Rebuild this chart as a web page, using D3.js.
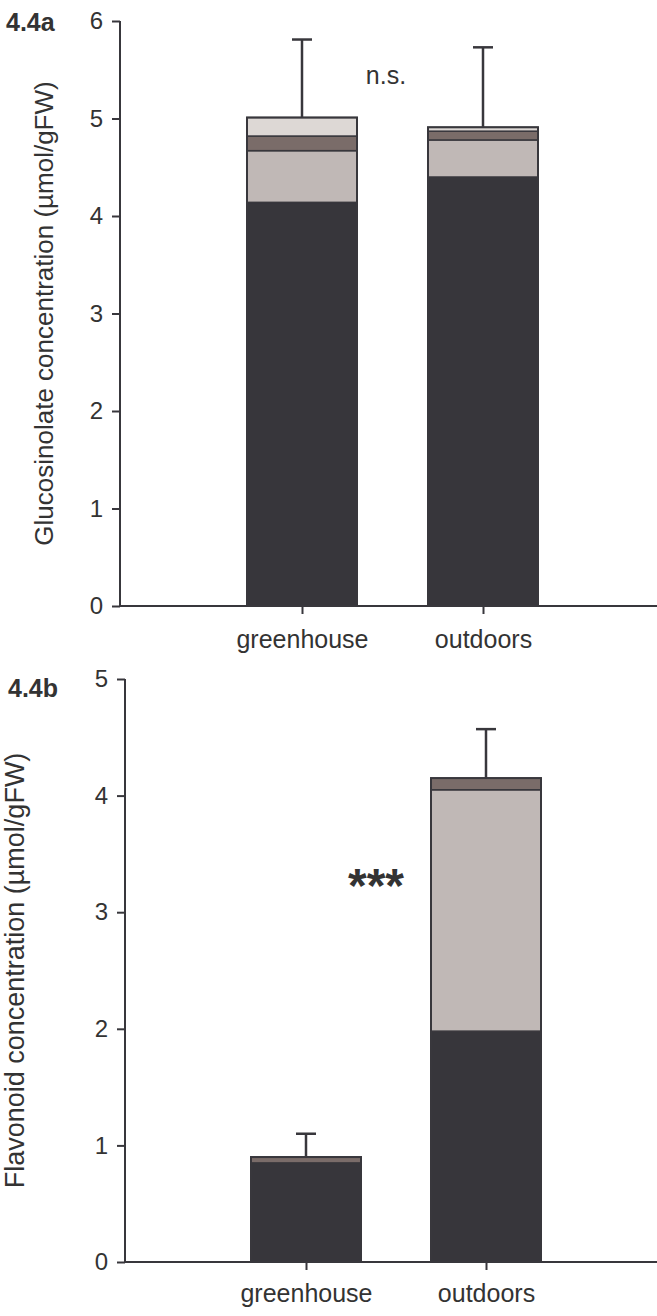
<!DOCTYPE html>
<html>
<head>
<meta charset="utf-8">
<script src="https://cdn.jsdelivr.net/npm/d3@7"></script>
<style>
  body { margin: 0; background: #fff; }
  text { font-family: "Liberation Sans", Arial, sans-serif; fill: #333; }
</style>
</head>
<body>
<svg id="chart" width="657" height="1316"></svg>
<script>
// categories shared by both panels
const categories = ["greenhouse", "outdoors"];

// 4.4a glucosinolates, stacked segments (bottom -> top), µmol/gFW
const glucoSeg1 = [4.14, 4.40];
const glucoSeg2 = [0.53, 0.38];
const glucoSeg3 = [0.15, 0.09];
const glucoSeg4 = [0.19, 0.04];
const glucoErrTop = [5.81, 5.73];
const glucoTicks = [0, 1, 2, 3, 4, 5, 6];

// 4.4b flavonoids, stacked segments (bottom -> top), µmol/gFW
const flavSeg1 = [0.85, 1.98];
const flavSeg2 = [0.00, 2.07];
const flavSeg3 = [0.05, 0.10];
const flavSeg4 = [0.00, 0.00];
const flavErrTop = [1.10, 4.57];
const flavTicks = [0, 1, 2, 3, 4, 5];

const segColors = ["#37363b", "#c0b8b6", "#7a6c69", "#ddd8d5"];
const ink = "#38373c";

const svg = d3.select("#chart");

function drawPanel(cfg) {
    const g = svg.append("g");

    const y = d3.scaleLinear()
        .domain([0, d3.max(cfg.ticks)])
        .range([cfg.bottom, cfg.top]);

    const x = d3.scalePoint()
        .domain(categories)
        .range(cfg.xRange);

    // one row per category with its stacked pieces
    const rows = categories.map((c, i) => ({
        cat: c,
        segs: cfg.segs.map(s => s[i]),
        err: cfg.err[i]
    }));

    rows.forEach(r => {
        let base = 0;
        const bw = cfg.barWidth;
        r.segs.forEach((v, k) => {
            if (v <= 0) return;
            g.append("rect")
                .attr("x", x(r.cat) - bw / 2)
                .attr("y", y(base + v))
                .attr("width", bw)
                .attr("height", y(base) - y(base + v))
                .attr("fill", segColors[k])
                .attr("stroke", ink)
                .attr("stroke-width", 1.5);
            base += v;
        });
        // outline
        g.append("rect")
            .attr("x", x(r.cat) - bw / 2)
            .attr("y", y(base))
            .attr("width", bw)
            .attr("height", y(0) - y(base))
            .attr("fill", "none")
            .attr("stroke", ink)
            .attr("stroke-width", 2);
        // error bar
        g.append("line")
            .attr("x1", x(r.cat)).attr("x2", x(r.cat))
            .attr("y1", y(base)).attr("y2", y(r.err))
            .attr("stroke", ink).attr("stroke-width", 2.5);
        g.append("line")
            .attr("x1", x(r.cat) - 10).attr("x2", x(r.cat) + 10)
            .attr("y1", y(r.err)).attr("y2", y(r.err))
            .attr("stroke", ink).attr("stroke-width", 2.5);
    });

    // y axis
    const yAxis = g.append("g")
        .attr("transform", `translate(${cfg.left}, 0)`)
        .call(d3.axisLeft(y).tickValues(cfg.ticks).tickFormat(d3.format("d")).tickSize(8).tickPadding(9));
    yAxis.select(".domain").attr("d", `M0,${cfg.top}V${cfg.bottom}`);

    // x axis
    const xAxis = g.append("g")
        .attr("transform", `translate(0, ${cfg.bottom})`)
        .call(d3.axisBottom(x).tickSize(8).tickPadding(cfg.xPad));
    xAxis.select(".domain").attr("d", `M${cfg.left},0H657`);

    [yAxis, xAxis].forEach(a => {
        a.selectAll("path, line").attr("stroke", ink).attr("stroke-width", 2);
        a.selectAll("text").attr("fill", "#333");
    });
    yAxis.selectAll("text").style("font-size", "24px");
    xAxis.selectAll("text").style("font-size", "25px");

    // y label
    g.append("text")
        .attr("transform", `translate(${cfg.titleX}, ${(cfg.top + cfg.bottom) / 2}) rotate(-90)`)
        .attr("text-anchor", "middle")
        .style("font-size", cfg.titleSize)
        .text(cfg.yLabel);

    // panel tag
    g.append("text")
        .attr("x", cfg.tagX).attr("y", cfg.tagY)
        .style("font-size", "25px").style("font-weight", "bold")
        .text(cfg.tag);

    // significance
    g.append("text")
        .attr("x", cfg.sigX).attr("y", cfg.sigY)
        .attr("text-anchor", "middle")
        .style("font-size", cfg.sigSize)
        .style("font-weight", cfg.sigWeight)
        .text(cfg.sig);
}

drawPanel({
    segs: [glucoSeg1, glucoSeg2, glucoSeg3, glucoSeg4],
    err: glucoErrTop,
    ticks: glucoTicks,
    top: 21, bottom: 606, left: 120,
    xRange: [302, 483], barWidth: 110, xPad: 16,
    yLabel: "Glucosinolate concentration (µmol/gFW)", titleX: 53, titleSize: "26px",
    tag: "4.4a", tagX: 6, tagY: 31,
    sig: "n.s.", sigX: 386, sigY: 84, sigSize: "25px", sigWeight: "normal"
});

drawPanel({
    segs: [flavSeg1, flavSeg2, flavSeg3, flavSeg4],
    err: flavErrTop,
    ticks: flavTicks,
    top: 679, bottom: 1262, left: 125,
    xRange: [306, 486], barWidth: 110, xPad: 14,
    yLabel: "Flavonoid concentration (µmol/gFW)", titleX: 24, titleSize: "27px",
    tag: "4.4b", tagX: 8, tagY: 697,
    sig: "***", sigX: 376, sigY: 902, sigSize: "48px", sigWeight: "bold"
});
</script>
</body>
</html>
